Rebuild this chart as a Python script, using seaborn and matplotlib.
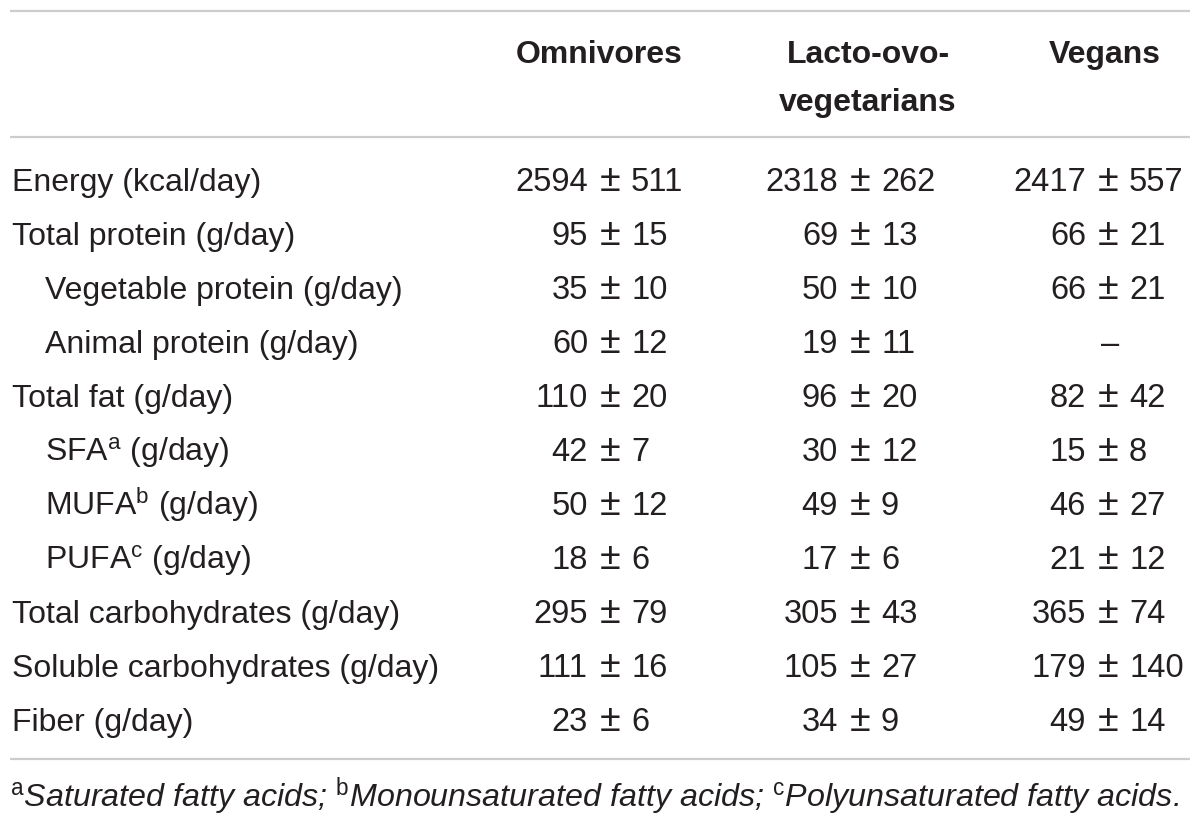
import matplotlib
matplotlib.use("Agg")
import matplotlib.pyplot as plt
import seaborn as sns

# ---- data ----
row_labels = ["Energy (kcal/day)", "Total protein (g/day)", "Vegetable protein (g/day)",
              "Animal protein (g/day)", "Total fat (g/day)", r"SFA$^{\mathrm{a}}$ (g/day)",
              r"MUFA$^{\mathrm{b}}$ (g/day)", r"PUFA$^{\mathrm{c}}$ (g/day)",
              "Total carbohydrates (g/day)", "Soluble carbohydrates (g/day)", "Fiber (g/day)"]
row_indent = [0, 0, 1, 1, 0, 1, 1, 1, 0, 0, 0]
groups = [["Omnivores"], ["Lacto-ovo-", "vegetarians"], ["Vegans"]]
omni_mean = [2594, 95, 35, 60, 110, 42, 50, 18, 295, 111, 23]
omni_sd = [511, 15, 10, 12, 20, 7, 12, 6, 79, 16, 6]
lacto_mean = [2318, 69, 50, 19, 96, 30, 49, 17, 305, 105, 34]
lacto_sd = [262, 13, 10, 11, 20, 12, 9, 6, 43, 27, 9]
vegan_mean = [2417, 66, 66, None, 82, 15, 46, 21, 365, 179, 49]
vegan_sd = [557, 21, 21, None, 42, 8, 27, 12, 74, 140, 14]
footnote = (r"$^{\mathrm{a}}$Saturated fatty acids; $^{\mathrm{b}}$Monounsaturated fatty acids; "
            r"$^{\mathrm{c}}$Polyunsaturated fatty acids.")

sns.set_theme(style="white")
plt.rcParams["font.family"] = ["Liberation Sans", "DejaVu Sans"]
plt.rcParams["mathtext.fontset"] = "custom"
plt.rcParams["mathtext.rm"] = "Liberation Sans"
plt.rcParams["mathtext.it"] = "Liberation Sans:italic"

W, H = 1200, 829
fig = plt.figure(figsize=(W / 100, H / 100), dpi=100)
ax = fig.add_axes([0, 0, 1, 1])
ax.set_xlim(0, W)
ax.set_ylim(H, 0)
ax.axis("off")

txt = "#231f20"
fs_lab = 23
fs_num = 23.5
fs_pm = 27
line_c = "#cccccc"
for yy in (12, 138, 760):
    ax.plot([10, 1190], [yy, yy], color=line_c, lw=1.6, solid_capstyle="butt")

# headers
hx = [599, 868, 1105]
for x, lines in zip(hx, groups):
    for j, ln in enumerate(lines):
        ax.text(x, 63 + 48 * j, ln, ha="center", va="baseline", fontsize=fs_lab,
                fontweight="bold", color=txt)

pm_x = [610, 860, 1108]
row_y0, row_dy = 191, 54
cols = [(omni_mean, omni_sd), (lacto_mean, lacto_sd), (vegan_mean, vegan_sd)]
for i, lab in enumerate(row_labels):
    y = row_y0 + i * row_dy
    ax.text(12 + 33 * row_indent[i], y, lab, ha="left", va="baseline", fontsize=fs_lab, color=txt)
    for (m, s), px in zip(cols, pm_x):
        if m[i] is None:
            ax.text(px + 2, y, "–", ha="center", va="baseline", fontsize=fs_num, color=txt)
            continue
        ax.text(px - 22, y, f"{m[i]}", ha="right", va="baseline", fontsize=fs_num, color=txt)
        ax.text(px, y, "±", ha="center", va="baseline", fontsize=fs_pm, color=txt)
        ax.text(px + 21, y, f"{s[i]}", ha="left", va="baseline", fontsize=fs_num, color=txt)

ax.text(10, 807, footnote, ha="left", va="baseline", fontsize=23.2, style="italic", color=txt)

fig.savefig("out.png", dpi=100, facecolor="white")
